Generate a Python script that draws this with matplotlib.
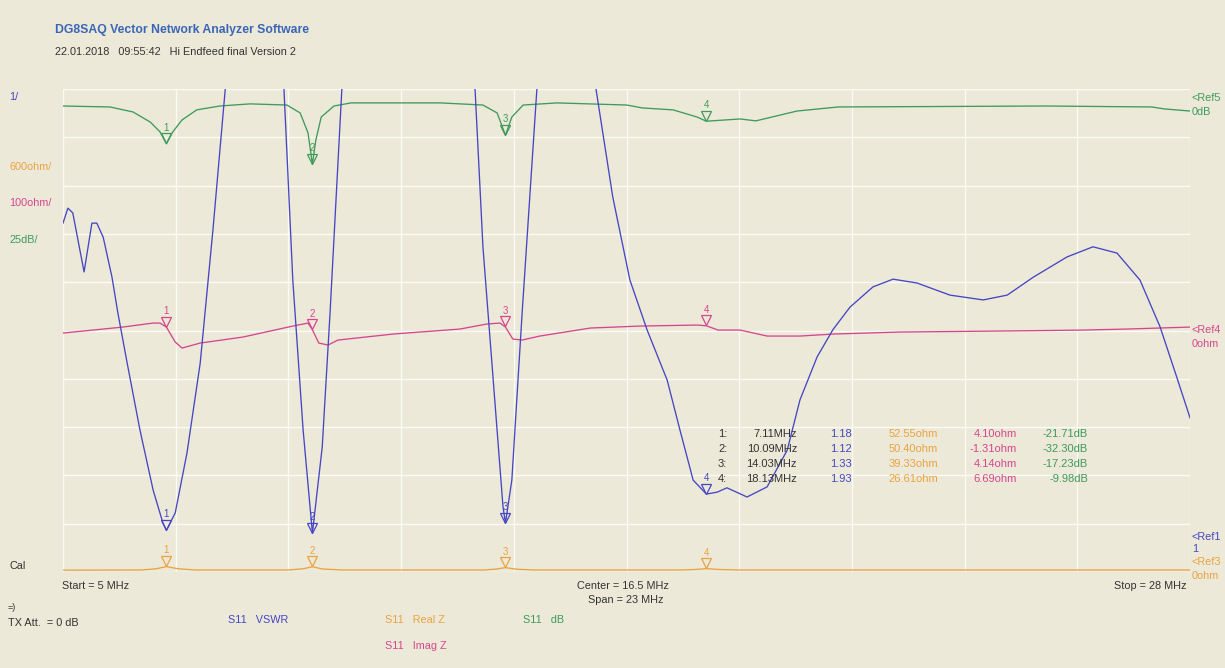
import matplotlib
matplotlib.use("Agg")
import matplotlib.pyplot as plt
import numpy as np
from matplotlib.transforms import offset_copy

plt.rcParams['font.family'] = ['Liberation Sans', 'DejaVu Sans']

# S11 VSWR trace (values above 10.3 run off the top of the screen)
f_vswr = [5.00, 5.10, 5.20, 5.43, 5.59, 5.69, 5.82, 6.00, 6.12, 6.31, 6.57, 6.84, 7.04, 7.11,
          7.29, 7.53, 7.80, 8.06, 8.31, 8.90, 9.51, 9.69, 9.90, 10.09, 10.29, 10.45, 10.69,
          12.00, 13.41, 13.57, 13.78, 13.98, 14.03, 14.16, 14.37, 14.67, 15.30, 15.88, 16.22,
          16.57, 16.92, 17.33, 17.59, 17.86, 18.13, 18.35, 18.55, 18.96, 19.37, 19.78, 20.04,
          20.39, 20.71, 21.06, 21.53, 21.94, 22.43, 23.10, 23.78, 24.27, 24.80, 25.49, 26.02,
          26.51, 26.98, 27.39, 27.73, 28.00]
vswr = [7.54, 7.85, 7.75, 6.53, 7.54, 7.54, 7.25, 6.42, 5.68, 4.64, 3.26, 2.01, 1.33, 1.18,
        1.54, 2.78, 4.64, 7.40, 10.30, 15.0, 10.30, 6.36, 3.26, 1.12, 2.90, 5.68, 10.30,
        15.0, 10.30, 7.05, 4.29, 1.66, 1.33, 2.22, 5.68, 10.30, 15.0, 10.30, 8.08,
        6.36, 5.33, 4.29, 3.26, 2.22, 1.93, 1.97, 2.06, 1.87, 2.08, 2.84, 3.88,
        4.77, 5.33, 5.80, 6.22, 6.38, 6.30, 6.05, 5.95, 6.05, 6.42, 6.84, 7.05,
        6.92, 6.36, 5.39, 4.35, 3.51]

# S11 dB trace
f_db = [5.00, 5.96, 6.43, 6.78, 6.98, 7.11, 7.24, 7.43, 7.73, 8.20, 8.82, 9.57, 9.84, 10.00,
        10.09, 10.16, 10.27, 10.53, 10.88, 11.90, 12.71, 13.57, 13.86, 14.03, 14.16, 14.39,
        15.08, 16.51, 16.82, 17.45, 17.94, 18.13, 18.82, 19.14, 19.98, 20.82, 25.06, 27.22,
        27.47, 28.00]
s11_db = [-2.1, -2.6, -5.2, -10.4, -15.5, -21.71, -15.5, -9.3, -4.1, -2.1, -1.0, -1.6, -5.7, -16.0,
          -32.3, -19.7, -7.8, -2.1, -0.5, -0.5, -0.5, -1.6, -5.7, -17.23, -7.8, -1.6,
          -0.5, -1.6, -3.1, -4.1, -7.8, -9.98, -8.8, -9.8, -4.7, -2.6, -2.1, -2.6,
          -3.6, -4.7]

# S11 Imag Z trace (ohm)
f_imag = [5.00, 6.22, 6.84, 6.98, 7.11, 7.29, 7.43, 7.80, 8.67, 9.69, 10.00, 10.09, 10.22, 10.41,
          10.61, 11.73, 13.10, 13.65, 13.92, 14.03, 14.18, 14.37, 14.73, 15.76, 16.78, 17.94,
          18.13, 18.37, 18.82, 19.37, 20.04, 20.71, 22.08, 24.12, 25.82, 26.71, 28.00]
imag_z = [-8.3, 4.1, 12.4, 12.4, 4.10, -26.9, -39.3, -29.0, -16.6, 6.2, 12.4, -1.31, -29.0, -33.1,
          -22.8, -10.4, 0.0, 10.4, 12.4, 4.14, -20.7, -22.8, -14.5, 2.1, 6.2, 8.3,
          6.69, -2.1, -2.1, -14.5, -14.5, -10.4, -6.2, -4.1, -2.1, 0.0, 4.1]

# S11 Real Z trace (ohm)
f_real = [5.00, 6.60, 6.90, 7.11, 7.35, 7.70, 9.60, 9.90, 10.09, 10.30, 10.70, 13.60, 13.85,
          14.03, 14.25, 14.60, 17.60, 17.90, 18.13, 18.40, 18.80, 28.00]
real_z = [8, 10, 25, 52.55, 25, 10, 10, 25, 50.40, 22, 10, 10, 22,
          39.33, 20, 10, 10, 16, 26.61, 16, 10, 10]

# markers
mk_f = [7.11, 10.09, 14.03, 18.13]
mk_vswr = [1.18, 1.12, 1.33, 1.93]
mk_real = [52.55, 50.40, 39.33, 26.61]
mk_imag = [4.10, -1.31, 4.14, 6.69]
mk_db = [-21.71, -32.30, -17.23, -9.98]

BG = '#ece9d8'
BLUE = '#4646c4'
GREEN = '#3f9a5c'
MAG = '#d5468e'
ORANGE = '#eaa341'
TXT = '#333333'

W, H = 1225, 668
fig = plt.figure(figsize=(W / 100, H / 100), dpi=100, facecolor=BG)


def px(x, y):
    return x / W, 1 - y / H


# plot area in pixels: x 63..1190, y 89..572
ax = fig.add_axes([63 / W, (H - 572) / H, (1190 - 63) / W, (572 - 89) / H])
ax.set_facecolor(BG)
ax.set_xlim(5, 28)
ax.set_ylim(0, 10)
ax.set_xticks(np.linspace(5, 28, 11))
ax.set_yticks(np.arange(11))
ax.grid(True, color='#fbfaf4', linewidth=1.0)
ax.tick_params(length=0, labelbottom=False, labelleft=False)
for s in ax.spines.values():
    s.set_visible(False)


def trace(lim, xs, ys, color, mk_vals, lw=0.95):
    t = ax.twinx()
    t.set_ylim(*lim)
    t.set_axis_off()
    t.plot(xs, ys, color=color, lw=lw, zorder=3)
    tri = offset_copy(t.transData, fig=fig, y=4, units='points')
    num = offset_copy(t.transData, fig=fig, y=8, units='points')
    for i, (fx, v) in enumerate(zip(mk_f, mk_vals)):
        t.plot(fx, v, marker='v', ms=6.5, mfc='none', mec=color, mew=0.9,
               transform=tri, zorder=4)
        t.text(fx, v, str(i + 1), color=color, fontsize=7, ha='center',
               va='bottom', transform=num, zorder=4)
    return t


trace((-15, 5985), f_real, real_z, ORANGE, mk_real)
trace((-503, 497), f_imag, imag_z, MAG, mk_imag)
trace((-243.3, 6.7), f_db, s11_db, GREEN, mk_db)
trace((0.317, 10.317), f_vswr, vswr, BLUE, mk_vswr)

# header
fig.text(*px(55, 30), 'DG8SAQ Vector Network Analyzer Software', color='#3b66b8',
         fontsize=8.8, fontweight='bold', va='center')
fig.text(*px(55, 52), '22.01.2018   09:55:42   Hi Endfeed final Version 2', color=TXT,
         fontsize=7.8, va='center')

# left scale labels
for y, s, c in [(97, '1/', BLUE), (167, '600ohm/', ORANGE), (203, '100ohm/', MAG),
                (240, '25dB/', GREEN), (566, 'Cal', TXT)]:
    fig.text(*px(9, y), s, color=c, fontsize=7.8, va='center')

# right reference labels
for y, s, c in [(98, '<Ref5', GREEN), (112, '0dB', GREEN), (330, '<Ref4', MAG), (344, '0ohm', MAG),
                (537, '<Ref1', BLUE), (549, '1', BLUE), (562, '<Ref3', ORANGE), (576, '0ohm', ORANGE)]:
    fig.text(*px(1192, y), s, color=c, fontsize=7.8, va='center')

# frequency axis text
fig.text(*px(62, 586), 'Start = 5 MHz', color=TXT, fontsize=7.8, va='center')
fig.text(*px(623, 586), 'Center = 16.5 MHz', color=TXT, fontsize=7.8, va='center', ha='center')
fig.text(*px(626, 600), 'Span = 23 MHz', color=TXT, fontsize=7.8, va='center', ha='center')
fig.text(*px(1187, 586), 'Stop = 28 MHz', color=TXT, fontsize=7.8, va='center', ha='right')

# bottom legend
fig.text(*px(8, 607), '=)', color=TXT, fontsize=6.5, va='center')
fig.text(*px(8, 623), 'TX Att.  = 0 dB', color=TXT, fontsize=7.8, va='center')
for x, y, s, c in [(228, 620, 'S11   VSWR', BLUE), (385, 620, 'S11   Real Z', ORANGE),
                   (523, 620, 'S11   dB', GREEN), (385, 646, 'S11   Imag Z', MAG)]:
    fig.text(*px(x, y), s, color=c, fontsize=7.8, va='center')

# marker table
rows_y = [434, 449, 464, 479]
for i, y in enumerate(rows_y):
    fig.text(*px(718, y), f'{i + 1}:', color=TXT, fontsize=8, va='center')
    fig.text(*px(797, y), f'{mk_f[i]:.2f}MHz', color=TXT, fontsize=8, va='center', ha='right')
    fig.text(*px(852, y), f'{mk_vswr[i]:.2f}', color=BLUE, fontsize=8, va='center', ha='right')
    fig.text(*px(938, y), f'{mk_real[i]:.2f}ohm', color=ORANGE, fontsize=8, va='center', ha='right')
    fig.text(*px(1017, y), f'{mk_imag[i]:.2f}ohm', color=MAG, fontsize=8, va='center', ha='right')
    fig.text(*px(1088, y), f'{mk_db[i]:.2f}dB', color=GREEN, fontsize=8, va='center', ha='right')

fig.savefig('out.png', dpi=100, facecolor=BG)
